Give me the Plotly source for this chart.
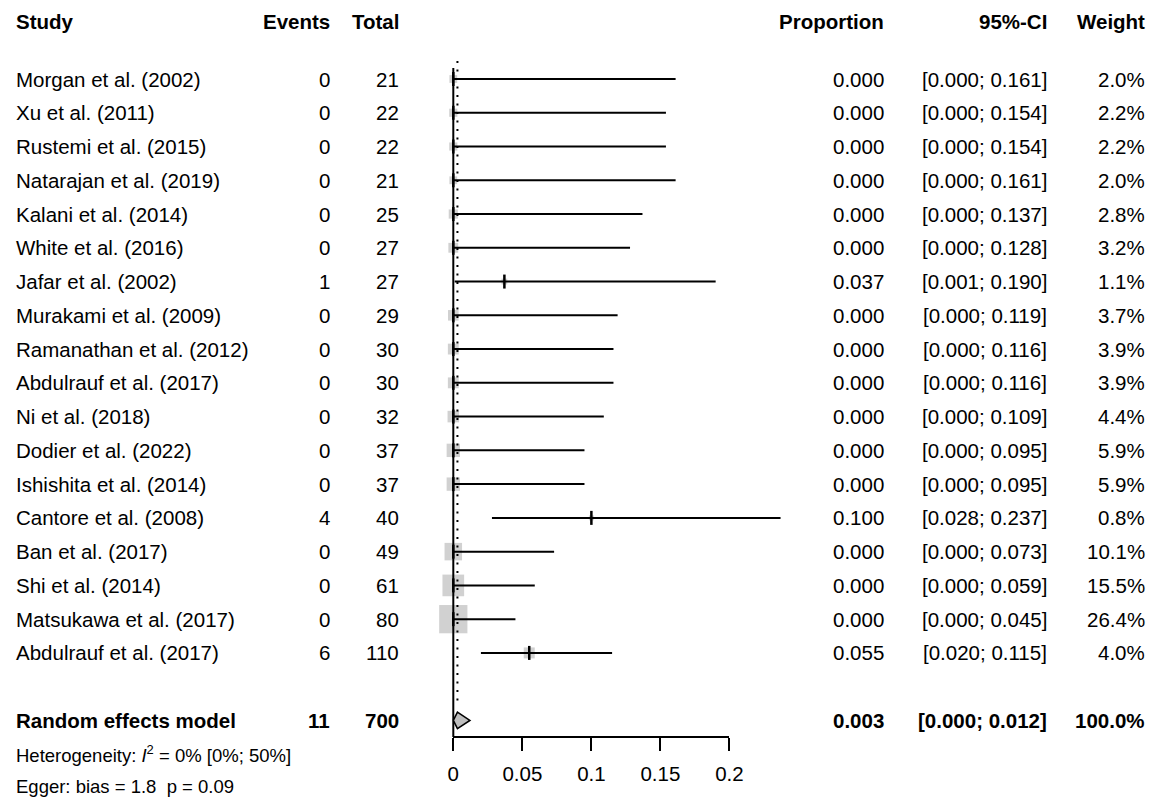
import numpy as np
import plotly.graph_objects as go

# study data
studies = ["Morgan et al. (2002)", "Xu et al. (2011)", "Rustemi et al. (2015)",
           "Natarajan et al. (2019)", "Kalani et al. (2014)", "White et al. (2016)",
           "Jafar et al. (2002)", "Murakami et al. (2009)", "Ramanathan et al. (2012)",
           "Abdulrauf et al. (2017)", "Ni et al. (2018)", "Dodier et al. (2022)",
           "Ishishita et al. (2014)", "Cantore et al. (2008)", "Ban et al. (2017)",
           "Shi et al. (2014)", "Matsukawa et al. (2017)", "Abdulrauf et al. (2017)"]
events = [0, 0, 0, 0, 0, 0, 1, 0, 0, 0, 0, 0, 0, 4, 0, 0, 0, 6]
totals = [21, 22, 22, 21, 25, 27, 27, 29, 30, 30, 32, 37, 37, 40, 49, 61, 80, 110]
prop = [0, 0, 0, 0, 0, 0, 0.037, 0, 0, 0, 0, 0, 0, 0.100, 0, 0, 0, 0.055]
ci_lo = [0, 0, 0, 0, 0, 0, 0.001, 0, 0, 0, 0, 0, 0, 0.028, 0, 0, 0, 0.020]
ci_hi = [0.161, 0.154, 0.154, 0.161, 0.137, 0.128, 0.190, 0.119, 0.116, 0.116,
         0.109, 0.095, 0.095, 0.237, 0.073, 0.059, 0.045, 0.115]
weight = [2.0, 2.2, 2.2, 2.0, 2.8, 3.2, 1.1, 3.7, 3.9, 3.9, 4.4, 5.9, 5.9, 0.8,
          10.1, 15.5, 26.4, 4.0]

# random effects summary
re_events, re_total = 11, 700
re_est, re_lo, re_hi = 0.003, 0.000, 0.012

tick_vals = [0, 0.05, 0.1, 0.15, 0.2]
tick_text = ["0", "0.05", "0.1", "0.15", "0.2"]

# the page puts the figure 8px in from the corner, so work in page pixels
OFF = 8
W, H = 1169 - OFF, 801 - OFF
FONT = "Liberation Sans"
FS = 20.5

# page-pixel geometry of the panel
x0_px, x02_px = 455, 736
px_per_unit = (x02_px - x0_px) / 0.2
row0_px, row_step = 79, 33.76
axis_px = 737


def row_of(py):
    return (py - row0_px) / row_step


rows = list(range(len(studies)))
re_row = len(studies) + 1

fig = go.Figure()

# weight squares
fig.add_trace(go.Scatter(
    x=prop, y=rows, mode="markers",
    marker=dict(symbol="square", size=[5.5 * np.sqrt(w) for w in weight],
                color="#bebebe", line=dict(width=0)),
    hoverinfo="skip", showlegend=False, cliponaxis=False))

# confidence intervals
cx, cy = [], []
for r, lo, hi in zip(rows, ci_lo, ci_hi):
    cx += [lo, hi, None]
    cy += [r, r, None]
fig.add_trace(go.Scatter(x=cx, y=cy, mode="lines", line=dict(color="black", width=2),
                         hoverinfo="skip", showlegend=False))

# estimate ticks
fig.add_trace(go.Scatter(
    x=prop, y=rows, mode="markers",
    marker=dict(symbol="line-ns", size=10, line=dict(color="black", width=2.5)),
    hoverinfo="skip", showlegend=False, cliponaxis=False))

# reference lines
fig.add_trace(go.Scatter(x=[0, 0], y=[row_of(68), row_of(axis_px)], mode="lines",
                         line=dict(color="black", width=2),
                         hoverinfo="skip", showlegend=False))
fig.add_trace(go.Scatter(x=[re_est, re_est], y=[row_of(61), re_row - 0.5], mode="lines",
                         line=dict(color="black", width=2, dash="2px,6.5px"),
                         hoverinfo="skip", showlegend=False))

# summary diamond
dh = 0.244
fig.add_trace(go.Scatter(
    x=[re_lo, re_est, re_hi, re_est, re_lo],
    y=[re_row, re_row - dh, re_row, re_row + dh, re_row],
    mode="lines", fill="toself", fillcolor="#bebebe",
    line=dict(color="black", width=1.6),
    hoverinfo="skip", showlegend=False))

# helper trace so the display axis is drawn
fig.add_trace(go.Scatter(x=[0.1], y=[None], xaxis="x2", mode="markers",
                         marker=dict(opacity=0), hoverinfo="skip", showlegend=False))


def px(v):
    return (v - OFF) / W


def txt(x, y, s, anchor="right", size=FS, bold=False):
    if bold:
        s = "<b>" + s + "</b>"
    fig.add_annotation(x=px(x), y=y, xref="paper", yref="y", text=s, showarrow=False,
                       xanchor=anchor, yanchor="middle",
                       font=dict(family=FONT, size=size, color="black"))


# columns (page pixels)
col_study, col_events, col_total = 8, 332, 402
col_prop, col_ci, col_w = 895, 1061, 1161

hdr = row_of(21)
txt(col_study, hdr, "Study", "left", bold=True)
txt(col_events, hdr, "Events", bold=True)
txt(col_total, hdr, "Total", bold=True)
txt(col_prop, hdr, "Proportion", bold=True)
txt(col_ci, hdr, "95%-CI", bold=True)
txt(col_w, hdr, "Weight", bold=True)

for r, s, e, n, p, lo, hi, w in zip(rows, studies, events, totals, prop, ci_lo, ci_hi, weight):
    txt(col_study, r, s, "left")
    txt(col_events, r, str(e))
    txt(col_total, r, str(n))
    txt(col_prop, r, f"{p:.3f}")
    txt(col_ci, r, f"[{lo:.3f}; {hi:.3f}]")
    txt(col_w, r, f"{w:.1f}%")

txt(col_study, re_row, "Random effects model", "left", bold=True)
txt(col_events, re_row, str(re_events), bold=True)
txt(col_total, re_row, str(re_total), bold=True)
txt(col_prop, re_row, f"{re_est:.3f}", bold=True)
txt(col_ci, re_row, f"[{re_lo:.3f}; {re_hi:.3f}]", bold=True)
txt(col_w, re_row, "100.0%", bold=True)

txt(col_study, row_of(754), "Heterogeneity: <i>I</i><sup>2</sup> = 0% [0%; 50%]", "left", size=18.5)
txt(col_study, row_of(786), "Egger: bias = 1.8 \u00a0p = 0.09", "left", size=18.5)

fig.update_layout(
    width=W, height=H,
    margin=dict(l=0, r=0, t=0, b=0),
    paper_bgcolor="white", plot_bgcolor="rgba(0,0,0,0)",
    showlegend=False,
    xaxis=dict(domain=[0, 1],
               range=[-(x0_px - OFF) / px_per_unit, (W + OFF - x0_px) / px_per_unit],
               visible=False, fixedrange=True),
    yaxis=dict(domain=[0, 1], range=[row_of(H + OFF), row_of(OFF)],
               visible=False, fixedrange=True),
    xaxis2=dict(domain=[px(x0_px), px(x02_px)], range=[0, 0.2], anchor="free",
                position=1 - (axis_px - OFF) / H, showline=True, linecolor="black",
                linewidth=2, ticks="outside", ticklen=13, tickwidth=2, tickcolor="black",
                ticklabelstandoff=5,
                tickvals=tick_vals, ticktext=tick_text, showgrid=False, zeroline=False,
                tickfont=dict(family=FONT, size=FS, color="black"), fixedrange=True),
)

fig.write_html("out.html")
